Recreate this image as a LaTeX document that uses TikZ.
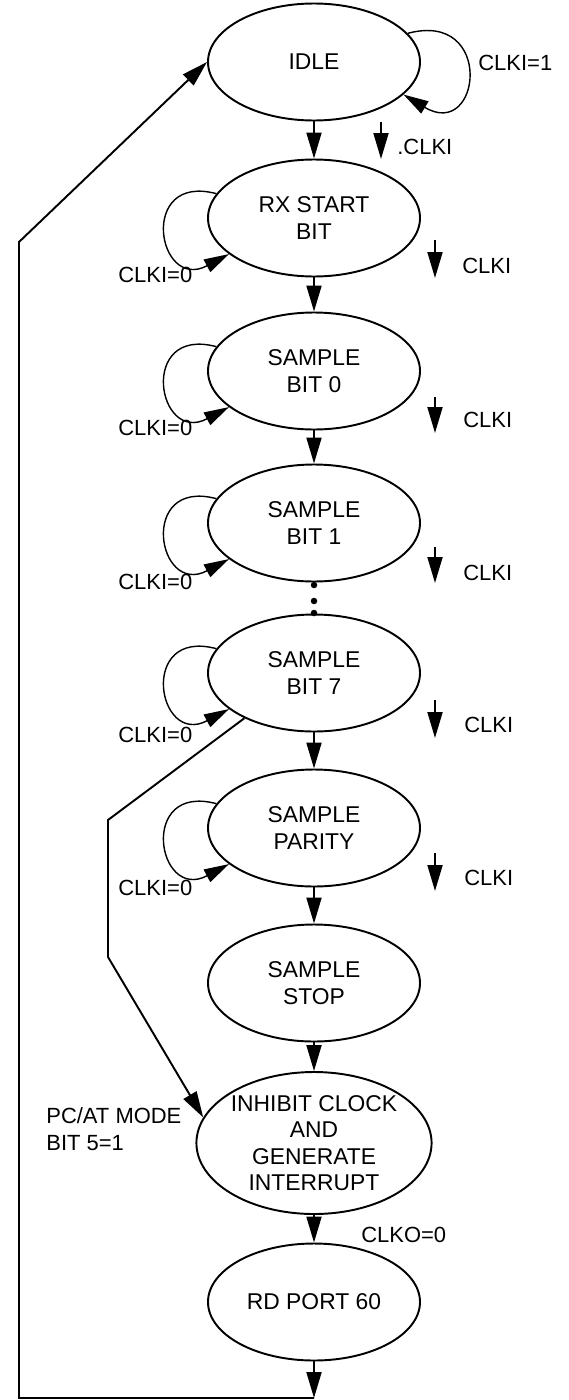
\documentclass[tikz,border=0pt]{standalone}
\usepackage{fontspec}
\setmainfont{Liberation Sans}
\usepackage{tikz}
\usetikzlibrary{arrows.meta,positioning,shapes.geometric}

\begin{document}
\begin{tikzpicture}[
    phase/.style={ellipse, draw, line width=1.1pt, inner sep=0pt,
                  minimum width=4.24cm, minimum height=2.34cm, align=center,
                  font=\fontsize{13}{15}\selectfont},
    cond/.style={inner sep=0pt, align=left, font=\fontsize{12.5}{15}\selectfont},
    trans/.style={-{Triangle[length=5.2mm,width=3mm]}, line width=1.1pt},
    selfloop/.style={-{Triangle[length=5mm,width=2.8mm]}, line width=0.8pt}
]
\useasboundingbox (0,0) rectangle (11.38,-28);

% Receive states
\node[phase] (IDLE) at (6.28,-1.24) {IDLE};
\node[phase] (RX) at (6.28,-4.36) {RX START\\BIT};
\node[phase] (B0) at (6.28,-7.42) {SAMPLE\\BIT 0};
\node[phase] (B1) at (6.28,-10.46) {SAMPLE\\BIT 1};
\node[phase] (B7) at (6.28,-13.46) {SAMPLE\\BIT 7};
\node[phase] (PAR) at (6.28,-16.56) {SAMPLE\\PARITY};
\node[phase] (STOP) at (6.28,-19.66) {SAMPLE\\STOP};
\node[phase, minimum width=4.7cm, minimum height=2.84cm] (INH) at (6.28,-22.86)
    {INHIBIT CLOCK\\AND\\GENERATE\\INTERRUPT};
\node[phase] (RD) at (6.28,-26.04) {RD PORT 60};

% Transitions
\draw[trans] (IDLE) -- (RX);
\draw[trans] (RX) -- (B0);
\draw[trans] (B0) -- (B1);
\draw[trans] (B7) -- (PAR);
\draw[trans] (PAR) -- (STOP);
\draw[trans] (STOP) -- (INH);
\draw[trans] (INH) -- (RD);

% Bits 2 to 6 left out
\fill (6.28,-11.70) circle (0.065);
\fill (6.28,-12.02) circle (0.065);
\fill (6.28,-12.26) circle (0.065);

% Self loops
\draw[selfloop] (IDLE.17) .. controls +(15:1.81) and +(-31:1.81) .. (IDLE.-20);
\draw[selfloop] (RX.166) .. controls +(165:1.63) and +(208:1.63) .. (RX.203);
\draw[selfloop] (B0.166) .. controls +(165:1.63) and +(208:1.63) .. (B0.203);
\draw[selfloop] (B1.166) .. controls +(165:1.63) and +(208:1.63) .. (B1.203);
\draw[selfloop] (B7.166) .. controls +(165:1.63) and +(208:1.63) .. (B7.203);
\draw[selfloop] (PAR.166) .. controls +(165:1.63) and +(208:1.63) .. (PAR.203);

\node[cond, anchor=west] (hold1) at (9.56,-1.26) {CLKI=1};
\node[cond, anchor=west] (hold0a) at (2.36,-5.50) {CLKI=0};
\node[cond, anchor=west] (hold0b) at (2.36,-8.56) {CLKI=0};
\node[cond, anchor=west] (hold0c) at (2.36,-11.64) {CLKI=0};
\node[cond, anchor=west] (hold0d) at (2.36,-14.70) {CLKI=0};
\node[cond, anchor=west] (hold0e) at (2.36,-17.76) {CLKI=0};

% Falling clock edges
\coordinate (fa) at (7.62,-2.44);
\coordinate (fb) at (8.70,-4.80);
\coordinate (fc) at (8.70,-7.94);
\coordinate (fd) at (8.70,-10.94);
\coordinate (fe) at (8.70,-14.00);
\coordinate (ff) at (8.70,-17.06);
\draw[trans] (fa) -- ++(0,-0.74);
\draw[trans] (fb) -- ++(0,-0.76);
\draw[trans] (fc) -- ++(0,-0.72);
\draw[trans] (fd) -- ++(0,-0.72);
\draw[trans] (fe) -- ++(0,-0.76);
\draw[trans] (ff) -- ++(0,-0.76);
\node[cond, anchor=west] (ea) at (7.94,-2.94) {.CLKI};
\node[cond, anchor=west] (eb) at (9.24,-5.32) {CLKI};
\node[cond, anchor=west] (ec) at (9.26,-8.40) {CLKI};
\node[cond, anchor=west] (ed) at (9.26,-11.46) {CLKI};
\node[cond, anchor=west] (ee) at (9.28,-14.50) {CLKI};
\node[cond, anchor=west] (ef) at (9.28,-17.56) {CLKI};

% PC/AT mode skips parity and stop
\coordinate (pa) at (2.16,-16.40);
\coordinate (pb) at (2.16,-19.14);
\draw[trans] (B7.213) -- (pa) -- (pb) -- (INH.167);
\node[cond, anchor=west] (atmode) at (0.92,-22.58) {PC/AT MODE\\BIT 5=1};

\node[cond, anchor=west] (clko) at (7.22,-24.70) {CLKO=0};

% Back to idle
\coordinate (bot) at (6.28,-27.96);
\coordinate (bl) at (0.38,-27.96);
\coordinate (tl) at (0.38,-4.84);
\draw[trans] (RD) -- (bot);
\draw[trans] (bot) -- (bl) -- (tl) -- (IDLE.west);

\end{tikzpicture}
\end{document}
